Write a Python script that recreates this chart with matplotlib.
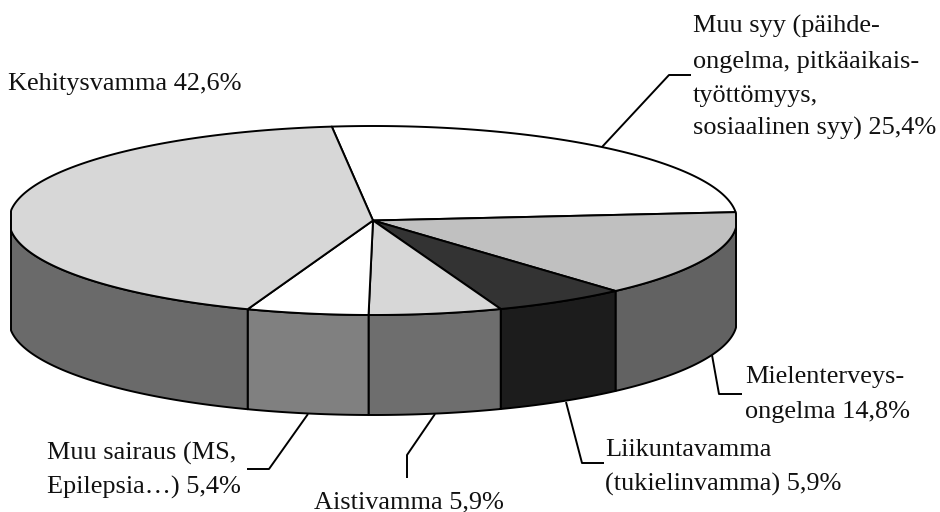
import matplotlib
matplotlib.use("Agg")
import matplotlib.pyplot as plt
import numpy as np

# shares in the order they run clockwise round the pie
categories = ["Muu syy", "Mielenterveysongelma", "Liikuntavamma", "Aistivamma", "Muu sairaus", "Kehitysvamma"]
values = [25.4, 14.8, 5.9, 5.9, 5.4, 42.6]

label_muu_syy = ["Muu syy (päihde-", "ongelma, pitkäaikais-", "työttömyys,", "sosiaalinen syy) 25,4%"]
label_mielen = ["Mielenterveys-", "ongelma 14,8%"]
label_liikunta = ["Liikuntavamma", "(tukielinvamma) 5,9%"]
label_aisti = ["Aistivamma 5,9%"]
label_sairaus = ["Muu sairaus (MS,", "Epilepsia…) 5,4%"]
label_kehitys = ["Kehitysvamma 42,6%"]

top_colors = ["#ffffff", "#c0c0c0", "#333333", "#d7d7d7", "#ffffff", "#d7d7d7"]
side_colors = ["#ffffff", "#626262", "#1c1c1c", "#6e6e6e", "#808080", "#6a6a6a"]

# pie geometry in pixels
cx, cy = 373.0, 220.5
rx, ry = 364, 94.5
x_min, x_max = 11, 736
depth = 100
start_angle = 96.5
lw = 1.4

plt.rcParams["font.family"] = ["Liberation Serif", "DejaVu Serif"]

fig = plt.figure(figsize=(9.4, 5.12), dpi=100)
ax = fig.add_axes([0, 0, 1, 1])
ax.set_xlim(0, 940)
ax.set_ylim(512, 0)
ax.axis("off")


def rim(a1, a2):
    t = np.radians(np.linspace(a1, a2, 200))
    x = np.clip(cx + rx * np.cos(t), x_min, x_max)
    y = cy - ry * np.sin(t)
    return x, y


edges = start_angle - np.cumsum([0] + values) * 3.6

# walls, only the part of each slice facing the viewer
for i in range(len(values)):
    a1 = min(edges[i], 0)
    a2 = max(edges[i + 1], -180)
    if a1 <= a2:
        continue
    x, y = rim(a1, a2)
    xs = np.concatenate([x, x[::-1]])
    ys = np.concatenate([y, y[::-1] + depth])
    ax.fill(xs, ys, facecolor=side_colors[i], edgecolor="black", linewidth=lw, joinstyle="round")

# top of the slices
for i in range(len(values)):
    x, y = rim(edges[i], edges[i + 1])
    xs = np.concatenate([[cx], x])
    ys = np.concatenate([[cy], y])
    ax.fill(xs, ys, facecolor=top_colors[i], edgecolor="black", linewidth=lw, joinstyle="round")

# leader lines
leaders = [
    ([602, 669, 691], [147, 75, 75]),
    ([712, 719, 742], [355, 394, 394]),
    ([566, 582, 604], [402, 463, 463]),
    ([435, 407, 407], [414, 455, 478]),
    ([308, 269, 247], [414, 469, 469]),
]
for lx, ly in leaders:
    ax.plot(lx, ly, color="black", linewidth=lw, solid_capstyle="butt")


def put_label(lines, x, baselines):
    for line, y in zip(lines, baselines):
        ax.text(x, y, line, fontsize=18.9, color="#111111", va="baseline", ha="left")


put_label(label_muu_syy, 693, [33, 68, 102, 135])
put_label(label_mielen, 745, [383, 418])
put_label(label_liikunta, 605, [456, 491])
put_label(label_aisti, 314, [508])
put_label(label_sairaus, 47, [460, 494])
put_label(label_kehitys, 8, [90])

fig.savefig("out.png", dpi=100)
